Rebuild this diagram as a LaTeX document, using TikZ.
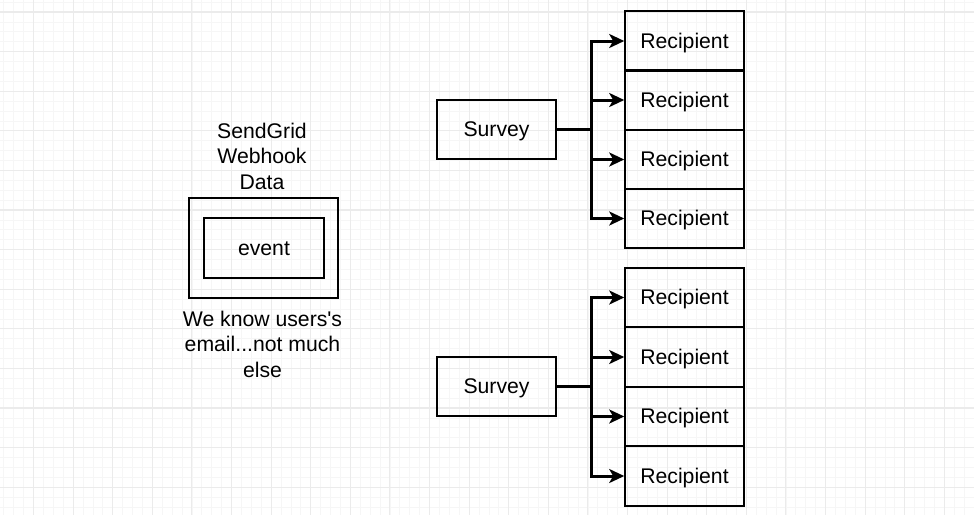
\documentclass[tikz,border=0pt]{standalone}
\usepackage{fontspec}
\setmainfont{Liberation Sans}[Ligatures=TeXOff]
\usetikzlibrary{arrows.meta}
\definecolor{gridminor}{HTML}{F6F6F6}
\definecolor{gridmajor}{HTML}{EBEBEB}
\tikzset{
  box/.style={draw=black, line width=1.6pt, minimum width=119pt, minimum height=59.5pt, inner sep=0pt, text height=16pt, text depth=1.8pt, font=\fontsize{21.2}{25}\selectfont},
  lbl/.style={align=center, inner sep=0pt, font=\fontsize{21.2}{25.5}\selectfont},
  conn/.style={line width=3pt, -{Stealth[length=15pt,width=14pt,inset=4pt]}},
  trunk/.style={line width=3pt},
  minorline/.style={draw=gridminor, line width=0.8pt},
  majorline/.style={draw=gridmajor, line width=1.1pt}
}
\begin{document}
\begin{tikzpicture}[x=1pt,y=-1pt]
\useasboundingbox (0,0) rectangle (974,515);
\fill[white] (0,0) rectangle (974,515);
\begin{scope}
\clip (0,0) rectangle (974,515);
\foreach \i in {0,...,98} {\draw[minorline] ({3.8+\i*9.9},0) -- ++(0,515);}
\foreach \i in {0,...,52} {\draw[minorline] (0,{2.1+\i*9.9}) -- ++(974,0);}
\foreach \i in {0,...,24} {\draw[majorline] ({33.5+\i*39.6},0) -- ++(0,515);}
\foreach \i in {0,...,12} {\draw[majorline] (0,{12+\i*39.6}) -- ++(974,0);}
\end{scope}

% left group
\node[draw=black, line width=1.6pt, minimum width=149pt, minimum height=100pt, inner sep=0pt] (outer) at (263.5,248) {};
\node[box, minimum width=120pt, minimum height=60pt] (event) at (264,248) {event};
\node[lbl] (title) at (262,156) {SendGrid\\Webhook\\Data};
\node[lbl] (note) at (262.5,344) {We know users's\\email...not much\\else};

% top group
\node[box] (s1) at (496.5,129.5) {Survey};
\node[box] (r11) at (684.5,41) {Recipient};
\node[box] (r12) at (684.5,100) {Recipient};
\node[box] (r13) at (684.5,159.5) {Recipient};
\node[box] (r14) at (684.5,218.5) {Recipient};
\coordinate (j1) at (591,129.5);
\draw[trunk] (s1.east) -- (j1);
\foreach \r in {r11,r12,r13,r14} {\draw[conn] (j1) |- (\r.west);}

% bottom group
\node[box] (s2) at (496.5,386.5) {Survey};
\node[box] (r21) at (684.5,297.5) {Recipient};
\node[box] (r22) at (684.5,357) {Recipient};
\node[box] (r23) at (684.5,416.5) {Recipient};
\node[box] (r24) at (684.5,476) {Recipient};
\coordinate (j2) at (591,386.5);
\draw[trunk] (s2.east) -- (j2);
\foreach \r in {r21,r22,r23,r24} {\draw[conn] (j2) |- (\r.west);}
\end{tikzpicture}
\end{document}
